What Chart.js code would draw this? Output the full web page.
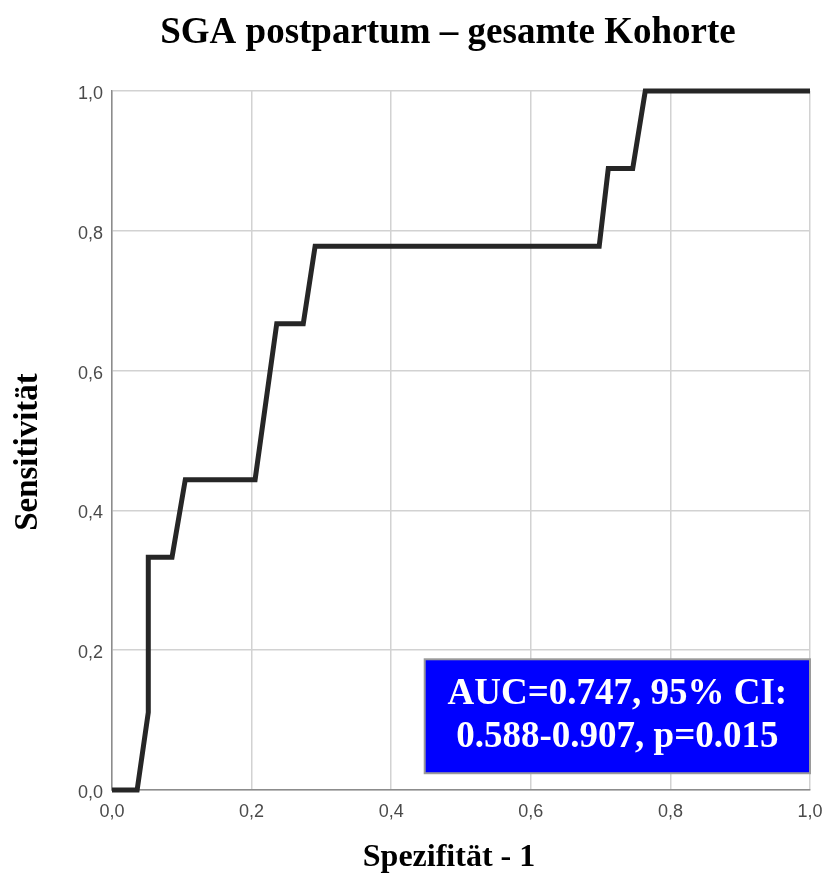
<!DOCTYPE html>
<html>
<head>
<meta charset="utf-8">
<script src="https://cdn.jsdelivr.net/npm/chart.js@4/dist/chart.umd.min.js"></script>
<style>
  html, body { margin: 0; padding: 0; background: #fff; }
  #wrap { width: 825px; height: 875px; }
</style>
</head>
<body>
<div id="wrap"><canvas id="c" width="825" height="875"></canvas></div>
<script>
// ROC curve points (1 - specificity, sensitivity)
const fpr = [0, 0.036, 0.052, 0.052, 0.086, 0.105, 0.205, 0.236, 0.274, 0.291, 0.698, 0.711, 0.746, 0.764, 1.0];
const tpr = [0, 0, 0.111, 0.333, 0.333, 0.444, 0.444, 0.667, 0.667, 0.778, 0.778, 0.889, 0.889, 1.0, 1.0];
const tickValues = [0, 0.2, 0.4, 0.6, 0.8, 1.0];
const tickLabels = ['0,0', '0,2', '0,4', '0,6', '0,8', '1,0'];
const chartTitle = 'SGA postpartum – gesamte Kohorte';
const xTitle = 'Spezifität - 1';
const yTitle = 'Sensitivität';
const annotationLines = ['AUC=0.747, 95% CI:', '0.588-0.907, p=0.015'];
// annotation box extent in data units
const boxX = [0.448, 1.0];
const boxY = [0.024, 0.187];

const points = fpr.map((x, i) => ({ x: x, y: tpr[i] }));
const SERIF = '"Liberation Serif", "Times New Roman", serif';

function labelFor(v) {
  const idx = tickValues.findIndex(t => Math.abs(t - v) < 1e-6);
  return idx >= 0 ? tickLabels[idx] : '';
}

const titlesPlugin = {
  id: 'titles',
  afterDraw(chart) {
    const { ctx } = chart;
    ctx.save();
    ctx.fillStyle = '#000';
    ctx.textAlign = 'center';
    ctx.textBaseline = 'alphabetic';
    ctx.font = 'bold 37px ' + SERIF;
    ctx.fillText(chartTitle, 448, 43);
    ctx.font = 'bold 32px ' + SERIF;
    ctx.fillText(xTitle, 449, 866);
    ctx.translate(37, 452);
    ctx.rotate(-Math.PI / 2);
    ctx.font = 'bold 33px ' + SERIF;
    ctx.fillText(yTitle, 0, 0);
    ctx.restore();
  }
};

const annotationPlugin = {
  id: 'aucBox',
  afterDatasetsDraw(chart) {
    const { ctx, scales } = chart;
    const x1 = scales.x.getPixelForValue(boxX[0]);
    const x2 = scales.x.getPixelForValue(boxX[1]);
    const y1 = scales.y.getPixelForValue(boxY[1]);
    const y2 = scales.y.getPixelForValue(boxY[0]);
    ctx.save();
    ctx.fillStyle = '#0000ff';
    ctx.fillRect(x1, y1, x2 - x1, y2 - y1);
    ctx.strokeStyle = '#9a9a9a';
    ctx.lineWidth = 2;
    ctx.strokeRect(x1, y1, x2 - x1, y2 - y1);
    ctx.fillStyle = '#ffffff';
    ctx.font = 'bold 37px ' + SERIF;
    ctx.textAlign = 'center';
    ctx.textBaseline = 'middle';
    const cx = (x1 + x2) / 2;
    const cy = (y1 + y2) / 2;
    const gap = 43;
    annotationLines.forEach((t, i) => {
      ctx.fillText(t, cx, cy + (i - (annotationLines.length - 1) / 2) * gap);
    });
    ctx.restore();
  }
};

new Chart(document.getElementById('c'), {
  type: 'scatter',
  data: {
    datasets: [{
      data: points,
      showLine: true,
      borderColor: '#262626',
      borderWidth: 5,
      pointRadius: 0,
      pointHoverRadius: 0,
      fill: false,
      tension: 0,
      borderJoinStyle: 'miter',
      clip: false
    }]
  },
  options: {
    responsive: false,
    animation: false,
    devicePixelRatio: 1,
    layout: { padding: { left: 0, right: 15, top: 91, bottom: 0 } },
    plugins: {
      legend: { display: false },
      tooltip: { enabled: false },
      title: { display: false }
    },
    scales: {
      x: {
        type: 'linear',
        min: 0, max: 1,
        afterBuildTicks: (s) => { s.ticks = tickValues.map(v => ({ value: v })); },
        afterFit: (s) => { s.height = 85; s.paddingLeft = 0; s.paddingRight = 0; },
        ticks: {
          callback: (v) => labelFor(v),
          color: '#4a4a4a',
          font: { family: '"Liberation Sans", Arial, sans-serif', size: 18 },
          padding: 11,
          maxRotation: 0
        },
        grid: { color: '#d2d2d2', lineWidth: 1.5, drawTicks: false },
        border: { color: '#8c8c8c', width: 1.5 },
        title: { display: false }
      },
      y: {
        type: 'linear',
        min: 0, max: 1,
        afterBuildTicks: (s) => { s.ticks = tickValues.map(v => ({ value: v })); },
        afterFit: (s) => { s.width = 112; s.paddingTop = 0; s.paddingBottom = 0; },
        ticks: {
          callback: (v) => labelFor(v),
          color: '#4a4a4a',
          font: { family: '"Liberation Sans", Arial, sans-serif', size: 18 },
          padding: 9,
          labelOffset: 3
        },
        grid: { color: '#d2d2d2', lineWidth: 1.5, drawTicks: false },
        border: { color: '#8c8c8c', width: 1.5 },
        title: { display: false }
      }
    }
  },
  plugins: [annotationPlugin, titlesPlugin]
});
</script>
</body>
</html>
